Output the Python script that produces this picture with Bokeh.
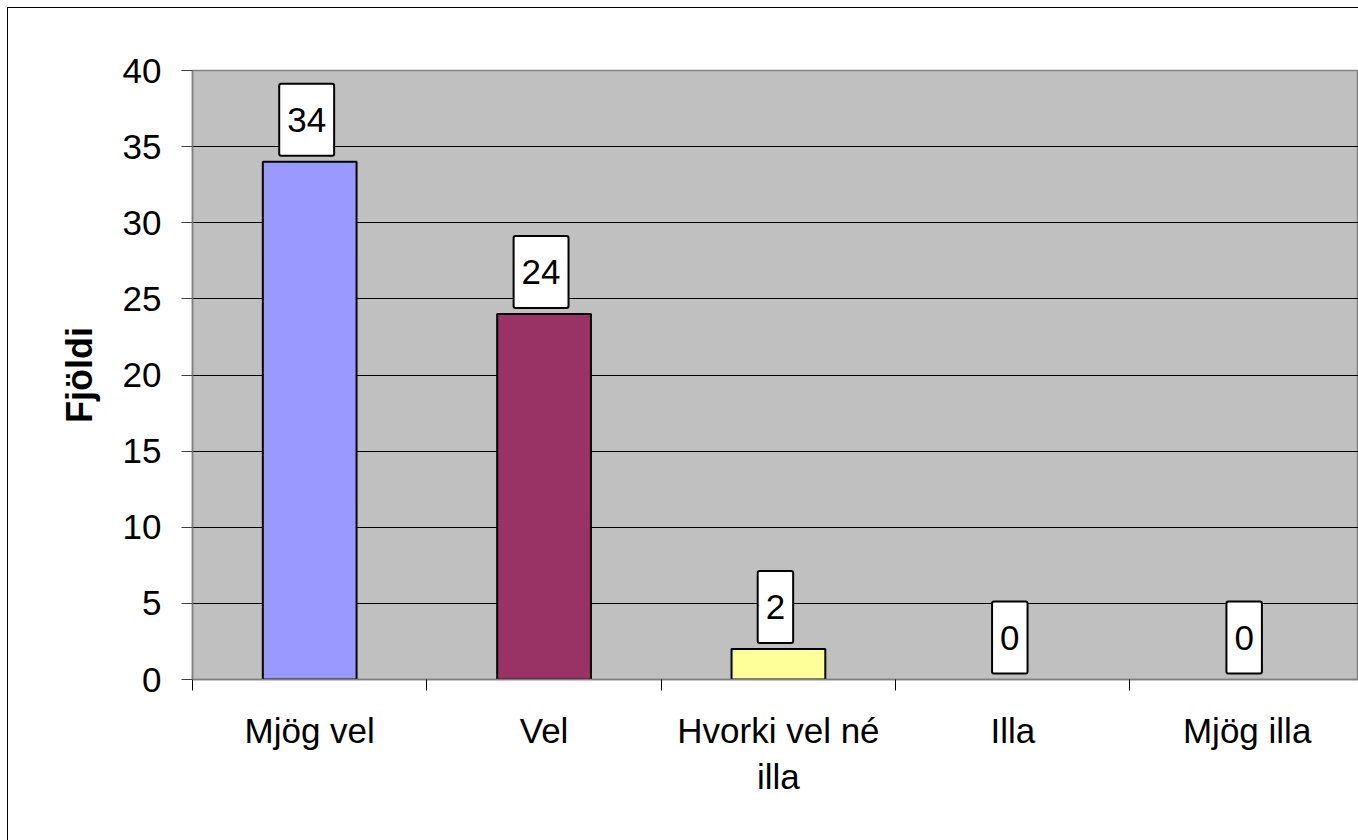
from bokeh.plotting import figure
from bokeh.models import Range1d, FixedTicker, Label
from bokeh.embed import file_html
from bokeh.resources import INLINE

categories = ["Mjög vel", "Vel", "Hvorki vel né\nilla", "Illa", "Mjög illa"]
values = [34, 24, 2, 0, 0]
colors = ["#9999FF", "#993366", "#FFFF99", "#FFFFFF", "#FFFFFF"]
y_ticks = [0, 5, 10, 15, 20, 25, 30, 35, 40]
y_title = "Fjöldi"

FONT = "Liberation Sans"

centers = [i + 0.5 for i in range(len(categories))]
bounds = [float(i) for i in range(len(categories))]
line_colors = ["#000000" if v > 0 else None for v in values]

p = figure(width=1350, height=832, output_backend="svg", toolbar_location=None,
           x_range=Range1d(0, 4.975), y_range=Range1d(0, 40),
           min_border_left=184, min_border_top=62, min_border_bottom=161,
           min_border_right=0)
p.styles = {"margin-left": "8px", "margin-top": "8px",
            "outline": "1.5px solid #000000"}
p.background_fill_color = "#C0C0C0"
p.border_fill_color = "#FFFFFF"
p.outline_line_color = "#808080"
p.outline_line_width = 1.5

p.vbar(x=centers, top=values, width=0.4, fill_color=colors,
       line_color=line_colors, line_width=2)

# grid
p.xgrid.visible = False
p.ygrid.ticker = FixedTicker(ticks=y_ticks)
p.ygrid.grid_line_color = "#000000"
p.ygrid.grid_line_width = 1

# y axis
ya = p.yaxis[0]
ya.ticker = FixedTicker(ticks=y_ticks)
ya.axis_line_color = "#808080"
ya.axis_line_width = 1.5
ya.major_tick_line_color = "#404040"
ya.major_tick_out = 11
ya.major_tick_in = 0
ya.minor_tick_line_color = None
ya.major_label_standoff = 20
ya.major_label_text_font = FONT
ya.major_label_text_font_size = "35px"
ya.major_label_text_color = "#000000"
ya.axis_label = y_title
ya.axis_label_text_font = FONT
ya.axis_label_text_font_size = "36px"
ya.axis_label_text_font_style = "bold"
ya.axis_label_text_color = "#000000"
ya.axis_label_standoff = 20

# x axis
xa = p.xaxis[0]
xa.ticker = FixedTicker(ticks=centers, minor_ticks=bounds)
xa.major_label_overrides = {c: lab for c, lab in zip(centers, categories)}
xa.axis_line_color = "#808080"
xa.axis_line_width = 1.5
xa.major_tick_out = 0
xa.major_tick_in = 0
xa.minor_tick_out = 11
xa.minor_tick_in = 0
xa.minor_tick_line_color = "#000000"
xa.major_label_standoff = 20
xa.major_label_text_font = FONT
xa.major_label_text_font_size = "35px"
xa.major_label_text_color = "#000000"

# value labels
for cx, v in zip(centers, values):
    lab = Label(x=cx, y=v, text=str(v), x_offset=-3, y_offset=6,
                anchor="bottom_center", text_align="center",
                text_font=FONT, text_font_size="35px", text_color="#000000",
                background_fill_color="#FFFFFF",
                border_line_color="#000000", border_line_width=2,
                padding=(8, 24), border_radius=2)
    p.add_layout(lab)

open("out.html", "w").write(file_html(p, INLINE))
